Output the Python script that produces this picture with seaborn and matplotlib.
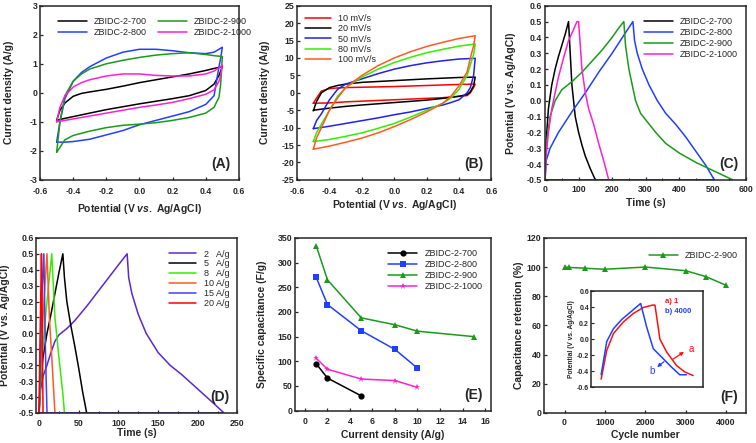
import numpy as np
import pandas as pd
import matplotlib
matplotlib.use("Agg")
import matplotlib.pyplot as plt
import seaborn as sns
from matplotlib.ticker import MultipleLocator, AutoMinorLocator, FormatStrFormatter

# ---------------- data ----------------
# (A) CV at fixed scan rate: forward branch then reverse branch
cv_x_fwd = [-0.5, -0.48, -0.45, -0.4, -0.35, -0.3, -0.2, -0.1, 0.0, 0.1, 0.2, 0.3, 0.4, 0.45, 0.5]
cv_x_rev = [0.5, 0.49, 0.48, 0.45, 0.4, 0.3, 0.2, 0.1, 0.0, -0.1, -0.2, -0.3, -0.4, -0.45, -0.5]
a_700_fwd = [-0.95, -0.6, -0.35, -0.12, -0.02, 0.03, 0.12, 0.23, 0.35, 0.45, 0.55, 0.65, 0.77, 0.84, 0.9]
a_700_rev = [0.9, 0.75, 0.6, 0.3, 0.08, -0.1, -0.2, -0.29, -0.38, -0.48, -0.58, -0.7, -0.82, -0.88, -0.95]
a_800_fwd = [-1.7, -1.0, -0.2, 0.4, 0.7, 0.9, 1.2, 1.4, 1.5, 1.5, 1.45, 1.38, 1.35, 1.4, 1.57]
a_800_rev = [1.57, 1.2, 0.9, -0.1, -0.4, -0.65, -0.8, -0.95, -1.1, -1.3, -1.45, -1.6, -1.68, -1.7, -1.7]
a_900_fwd = [-2.05, -1.0, -0.1, 0.4, 0.65, 0.82, 1.0, 1.12, 1.22, 1.3, 1.35, 1.38, 1.32, 1.28, 1.25]
a_900_rev = [1.25, 0.3, -0.15, -0.5, -0.7, -0.85, -0.95, -1.03, -1.08, -1.12, -1.2, -1.32, -1.47, -1.62, -2.05]
a_1000_fwd = [-1.0, -0.5, -0.1, 0.2, 0.35, 0.45, 0.58, 0.65, 0.65, 0.6, 0.58, 0.58, 0.65, 0.75, 0.95]
a_1000_rev = [0.95, 0.6, 0.4, 0.1, -0.05, -0.2, -0.33, -0.42, -0.5, -0.6, -0.7, -0.8, -0.9, -0.95, -1.0]

# (B) CV of ZBIDC-2-900 at different scan rates
b_x_fwd = [-0.5, -0.48, -0.45, -0.4, -0.35, -0.3, -0.2, -0.1, 0.0, 0.1, 0.2, 0.3, 0.4, 0.5]
b_x_rev = [0.5, 0.49, 0.47, 0.45, 0.4, 0.35, 0.3, 0.2, 0.1, 0.0, -0.1, -0.2, -0.3, -0.4, -0.5]
b_10_fwd = [-3.0, -1.5, 0.5, 1.2, 1.4, 1.5, 1.6, 1.7, 1.8, 1.95, 2.1, 2.25, 2.4, 2.5]
b_10_rev = [2.5, 1.5, 0.0, -0.8, -1.0, -1.2, -1.4, -1.6, -1.8, -2.0, -2.2, -2.4, -2.6, -2.9, -3.0]
b_20_fwd = [-5.2, -2.5, 0.0, 1.5, 2.1, 2.5, 3.0, 3.25, 3.5, 3.75, 4.0, 4.2, 4.4, 4.5]
b_20_rev = [4.5, 2.0, 0.3, -0.5, -1.0, -1.3, -1.6, -2.1, -2.45, -2.8, -3.15, -3.5, -3.9, -4.4, -5.0]
b_50_fwd = [-10.3, -8.0, -6.0, -2.0, 1.0, 2.5, 4.0, 5.5, 6.8, 7.8, 8.6, 9.2, 9.7, 9.9]
b_50_rev = [9.9, 5.0, 1.5, 0.0, -2.0, -2.8, -3.5, -4.5, -5.5, -6.3, -7.2, -8.0, -8.8, -9.6, -10.3]
b_80_fwd = [-14.0, -11.5, -9.0, -5.0, -1.0, 1.5, 4.5, 6.8, 8.7, 10.2, 11.5, 12.5, 13.4, 14.0]
b_80_rev = [14.0, 11.0, 8.0, 5.0, 1.0, -1.5, -3.0, -5.0, -7.0, -8.8, -10.2, -11.5, -12.5, -13.4, -14.0]
b_100_fwd = [-16.2, -13.0, -10.0, -5.0, -1.5, 1.5, 5.0, 7.8, 10.0, 11.8, 13.3, 14.5, 15.6, 16.4]
b_100_rev = [16.4, 13.5, 10.0, 6.0, 2.0, -1.0, -3.0, -5.5, -7.7, -9.7, -11.5, -13.0, -14.2, -15.3, -16.2]

# (C) GCD at 1 A/g
c_700_t = [0, 1, 5, 10, 20, 30, 40, 50, 60, 70, 75, 80, 90, 100, 110, 120, 135, 150]
c_700_v = [-0.5, -0.35, -0.2, -0.05, 0.1, 0.2, 0.28, 0.35, 0.42, 0.5, 0.3, 0.1, -0.1, -0.2, -0.28, -0.35, -0.43, -0.5]
c_800_t = [0, 3, 15, 40, 80, 120, 160, 200, 240, 262, 267, 275, 290, 310, 335, 360, 390, 420, 450, 480, 505, 0]
c_800_v = [-0.5, -0.38, -0.3, -0.2, -0.07, 0.05, 0.18, 0.3, 0.43, 0.5, 0.38, 0.3, 0.2, 0.1, 0.0, -0.08, -0.15, -0.23, -0.32, -0.41, -0.5, -0.5]
c_900_t = [0, 2, 5, 15, 30, 50, 80, 110, 140, 170, 185, 200, 220, 235, 240, 250, 260, 270, 285, 300, 330, 360, 400, 450, 500, 540, 560]
c_900_v = [-0.5, -0.35, -0.25, -0.1, 0.0, 0.07, 0.12, 0.18, 0.25, 0.32, 0.36, 0.4, 0.46, 0.5, 0.35, 0.2, 0.1, 0.0, -0.08, -0.12, -0.2, -0.27, -0.33, -0.39, -0.44, -0.48, -0.5]
c_1000_t = [0, 3, 10, 20, 30, 40, 55, 70, 85, 95, 100, 105, 110, 120, 130, 145, 160, 175, 190]
c_1000_v = [-0.5, -0.35, -0.2, -0.05, 0.05, 0.15, 0.27, 0.38, 0.45, 0.5, 0.5, 0.35, 0.2, 0.05, -0.05, -0.15, -0.27, -0.38, -0.5]

# (D) GCD of ZBIDC-2-900 at different current densities
d_2_t = [0, 2, 5, 10, 15, 20, 25, 30, 35, 45, 60, 80, 100, 111, 113, 117, 125, 135, 150, 165, 180, 200, 220, 233, 0]
d_2_v = [-0.5, -0.35, -0.27, -0.2, -0.12, -0.05, -0.01, 0.01, 0.03, 0.08, 0.17, 0.3, 0.43, 0.5, 0.35, 0.25, 0.12, 0.0, -0.12, -0.2, -0.26, -0.35, -0.44, -0.5, -0.5]
d_5_t = [0, 2, 5, 10, 15, 20, 25, 30, 32, 35, 40, 45, 50, 55, 60]
d_5_v = [-0.5, -0.3, -0.15, 0.0, 0.12, 0.25, 0.38, 0.5, 0.35, 0.2, 0.05, -0.08, -0.22, -0.37, -0.5]
d_8_t = [0, 3, 8, 13, 16, 20, 25, 30, 32]
d_8_v = [-0.5, -0.2, 0.1, 0.35, 0.5, 0.1, -0.15, -0.38, -0.5]
d_10_t = [0, 2, 5, 8, 10, 13, 16, 20]
d_10_v = [-0.5, -0.2, 0.1, 0.35, 0.5, 0.1, -0.15, -0.5]
d_15_t = [0, 2, 4, 6, 7, 8, 10]
d_15_v = [-0.5, -0.1, 0.3, 0.5, 0.2, -0.1, -0.5]
d_20_t = [0, 1, 2, 3, 4, 5]
d_20_v = [-0.5, -0.1, 0.2, 0.5, 0.1, -0.5]

# (E) specific capacitance vs current density
e_700_i = [1, 2, 5]
e_700_c = [95, 66, 30]
e_800_i = [1, 2, 5, 8, 10]
e_800_c = [270, 215, 162, 124, 86]
e_900_i = [1, 2, 5, 8, 10, 15]
e_900_c = [334, 265, 188, 174, 161, 150]
e_1000_i = [1, 2, 5, 8, 10]
e_1000_c = [106, 84, 64, 61, 47]

# (F) cycling stability and inset GCD curves
f_cycle = [0, 100, 500, 1000, 2000, 3000, 3500, 4000]
f_retention = [100, 99.8, 99.2, 98.5, 100, 97.5, 93.5, 87.5]
inset_a_t = [8.9, 13.9, 19.9, 28.8, 37.7, 46.6, 54.9, 57.0, 61.4, 67.4, 76.3, 83.7, 91.1]
inset_a_v = [-0.5, -0.14, 0.07, 0.215, 0.32, 0.395, 0.425, 0.425, 0.0, -0.16, -0.33, -0.41, -0.455]
inset_b_t = [8.9, 13.9, 19.9, 27.3, 36.2, 44.2, 49.6, 55.5, 64.4, 71.8, 79.2, 85.2]
inset_b_v = [-0.445, -0.03, 0.13, 0.245, 0.35, 0.445, 0.15, -0.12, -0.245, -0.35, -0.445, -0.445]

samples = ["ZBIDC-2-700", "ZBIDC-2-800", "ZBIDC-2-900", "ZBIDC-2-1000"]
rates = ["10 mV/s", "20 mV/s", "50 mV/s", "80 mV/s", "100 mV/s"]
currents = ["2   A/g", "5   A/g", "8   A/g", "10 A/g", "15 A/g", "20 A/g"]

# ---------------- style ----------------
sns.set_style("ticks")
plt.rcParams["font.family"] = ["Liberation Sans", "DejaVu Sans"]
plt.rcParams["font.weight"] = "bold"
plt.rcParams["axes.labelweight"] = "bold"
plt.rcParams["axes.unicode_minus"] = False
plt.rcParams["mathtext.fontset"] = "custom"
plt.rcParams["mathtext.it"] = "Liberation Sans:italic:bold"
plt.rcParams["mathtext.rm"] = "Liberation Sans:bold"
plt.rcParams["axes.linewidth"] = 1.1
plt.rcParams["xtick.direction"] = "in"
plt.rcParams["ytick.direction"] = "in"

sample_colors = ["#000000", "#2040ff", "#1a9a1a", "#ff20d0"]
rate_colors = ["#ff0000", "#000000", "#2020ee", "#33ee00", "#ff5a1f"]
current_colors = ["#5a28d0", "#000000", "#33ee00", "#ff5a1f", "#4040ff", "#ff0000"]

fs_tick = 6.3
fs_label = 7.5
fs_leg = 6.5

fig = plt.figure(figsize=(7.56, 4.43), dpi=100)
axA = fig.add_axes([0.053, 0.594, 0.263, 0.393])
axB = fig.add_axes([0.393, 0.594, 0.257, 0.393])
axC = fig.add_axes([0.721, 0.594, 0.266, 0.393])
axD = fig.add_axes([0.048, 0.068, 0.266, 0.395])
axE = fig.add_axes([0.390, 0.073, 0.259, 0.390])
axF = fig.add_axes([0.720, 0.068, 0.267, 0.395])
axI = fig.add_axes([0.782, 0.126, 0.148, 0.217])


def loop_frame(names, xs, ys, col):
    rows = []
    for n, x, y in zip(names, xs, ys):
        for i, (a, b) in enumerate(zip(x, y)):
            rows.append({col: n, "x": a, "y": b, "o": i})
    return pd.DataFrame(rows)


def finish(ax, label, xpad, xlab_y, ylab_x):
    ax.tick_params(labelsize=fs_tick, width=0.9, length=2.5, pad=2)
    ax.tick_params(axis="x", pad=xpad)
    ax.tick_params(which="minor", width=0.8, length=1.5)
    ax.xaxis.label.set_size(fs_label)
    ax.yaxis.label.set_size(fs_label)
    ax.xaxis.set_label_coords(0.5, xlab_y)
    ax.yaxis.set_label_coords(ylab_x, 0.5)
    ax.text(0.96, 0.05, label, transform=ax.transAxes, ha="right", va="bottom",
            fontsize=10, fontweight="bold")


# ---- (A)
dfA = loop_frame(samples,
                 [cv_x_fwd + cv_x_rev] * 4,
                 [a_700_fwd + a_700_rev, a_800_fwd + a_800_rev,
                  a_900_fwd + a_900_rev, a_1000_fwd + a_1000_rev], "s")
sns.lineplot(data=dfA, x="x", y="y", hue="s", palette=sample_colors, sort=False,
             estimator=None, lw=1.1, ax=axA)
axA.set_xlim(-0.6, 0.6)
axA.set_ylim(-3, 3)
axA.xaxis.set_major_locator(MultipleLocator(0.2))
axA.xaxis.set_major_formatter(FormatStrFormatter("%.1f"))
axA.yaxis.set_major_locator(MultipleLocator(1))
axA.set_xlabel(r"Potential (V $\it{vs.}$ Ag/AgCl)")
axA.set_ylabel("Current density (A/g)")
axA.legend(ncol=2, loc="upper left", bbox_to_anchor=(0.05, 0.98), frameon=False,
           handlelength=3.2, columnspacing=1.2, labelspacing=0.15,
           prop={"size": fs_leg, "weight": "normal"})
finish(axA, "(A)", 5, -0.126, -0.131)

# ---- (B)
dfB = loop_frame(rates,
                 [b_x_fwd + b_x_rev] * 5,
                 [b_10_fwd + b_10_rev, b_20_fwd + b_20_rev, b_50_fwd + b_50_rev,
                  b_80_fwd + b_80_rev, b_100_fwd + b_100_rev], "r")
sns.lineplot(data=dfB, x="x", y="y", hue="r", palette=rate_colors, sort=False,
             estimator=None, lw=1.1, ax=axB)
axB.set_xlim(-0.6, 0.6)
axB.set_ylim(-25, 25)
axB.xaxis.set_major_locator(MultipleLocator(0.2))
axB.xaxis.set_major_formatter(FormatStrFormatter("%.1f"))
axB.yaxis.set_major_locator(MultipleLocator(5))
axB.set_xlabel(r"Potential (V $\it{vs.}$ Ag/AgCl)")
axB.set_ylabel("Current density (A/g)")
axB.legend(loc="upper left", bbox_to_anchor=(0.0, 1.0), frameon=False,
           handlelength=2.8, labelspacing=0.15, prop={"size": fs_leg, "weight": "normal"})
finish(axB, "(B)", 5, -0.103, -0.139)

# ---- (C)
dfC = loop_frame(samples, [c_700_t, c_800_t, c_900_t, c_1000_t],
                 [c_700_v, c_800_v, c_900_v, c_1000_v], "s")
sns.lineplot(data=dfC, x="x", y="y", hue="s", palette=sample_colors, sort=False,
             estimator=None, lw=1.1, ax=axC)
axC.set_xlim(0, 600)
axC.set_ylim(-0.5, 0.6)
axC.xaxis.set_major_locator(MultipleLocator(100))
axC.xaxis.set_minor_locator(AutoMinorLocator(2))
axC.yaxis.set_major_locator(MultipleLocator(0.1))
axC.yaxis.set_major_formatter(FormatStrFormatter("%.1f"))
axC.set_xlabel("Time (s)")
axC.set_ylabel("Potential (V vs. Ag/AgCl)")
axC.legend(loc="upper right", bbox_to_anchor=(1.0, 0.98), frameon=False,
           handlelength=3.2, labelspacing=0.2, prop={"size": fs_leg, "weight": "normal"})
finish(axC, "(C)", 4, -0.103, -0.144)

# ---- (D)
dfD = loop_frame(currents, [d_2_t, d_5_t, d_8_t, d_10_t, d_15_t, d_20_t],
                 [d_2_v, d_5_v, d_8_v, d_10_v, d_15_v, d_20_v], "c")
sns.lineplot(data=dfD, x="x", y="y", hue="c", palette=current_colors, sort=False,
             estimator=None, lw=1.1, ax=axD)
axD.set_xlim(-3.5, 250)
axD.set_ylim(-0.5, 0.6)
axD.xaxis.set_major_locator(MultipleLocator(50))
axD.xaxis.set_minor_locator(AutoMinorLocator(2))
axD.yaxis.set_major_locator(MultipleLocator(0.1))
axD.yaxis.set_major_formatter(FormatStrFormatter("%.1f"))
axD.set_xlabel("Time (s)")
axD.set_ylabel("Potential (V vs. Ag/AgCl)")
axD.legend(loc="upper right", bbox_to_anchor=(1.0, 0.98), frameon=False,
           handlelength=3.0, labelspacing=0.1, prop={"size": fs_leg, "weight": "normal"})
finish(axD, "(D)", 4.3, -0.086, -0.129)

# ---- (E)
dfE = loop_frame(samples, [e_700_i, e_800_i, e_900_i, e_1000_i],
                 [e_700_c, e_800_c, e_900_c, e_1000_c], "s")
sns.lineplot(data=dfE, x="x", y="y", hue="s", style="s", palette=sample_colors,
             markers=["o", "s", "^", "*"], dashes=False, markersize=4.5,
             markeredgewidth=0, sort=False, estimator=None, lw=1.1, ax=axE)
axE.set_xlim(-0.9, 16.5)
axE.set_ylim(0, 350)
axE.xaxis.set_major_locator(MultipleLocator(2))
axE.yaxis.set_major_locator(MultipleLocator(50))
axE.set_xlabel("Current density (A/g)")
axE.set_ylabel("Specific capacitance (F/g)")
axE.legend(loc="upper right", bbox_to_anchor=(1.0, 0.98), frameon=False,
           handlelength=3.2, labelspacing=0.2, prop={"size": fs_leg, "weight": "normal"})
finish(axE, "(E)", 4.5, -0.11, -0.143)

# ---- (F)
sns.lineplot(x=f_cycle, y=f_retention, color="#1a9a1a", marker="^", markersize=4.5,
             markeredgewidth=0, lw=1.1, label="ZBIDC-2-900", ax=axF)
axF.set_xlim(-500, 4500)
axF.set_ylim(0, 120)
axF.xaxis.set_major_locator(MultipleLocator(1000))
axF.yaxis.set_major_locator(MultipleLocator(20))
axF.set_xlabel("Cycle number")
axF.set_ylabel("Capacitance retention (%)")
axF.legend(loc="upper right", bbox_to_anchor=(1.0, 0.97), frameon=False,
           handlelength=3.2, prop={"size": fs_leg, "weight": "normal"})
finish(axF, "(F)", 3.5, -0.097, -0.099)

# inset
sns.lineplot(x=inset_a_t, y=inset_a_v, color="#ff1010", sort=False, estimator=None,
             lw=1.1, ax=axI)
sns.lineplot(x=inset_b_t, y=inset_b_v, color="#2040ff", sort=False, estimator=None,
             lw=1.1, ax=axI)
axI.set_xlim(0, 100)
axI.set_ylim(-0.6, 0.6)
axI.set_xticks([])
axI.yaxis.set_major_locator(MultipleLocator(0.2))
axI.yaxis.set_major_formatter(FormatStrFormatter("%.1f"))
axI.tick_params(labelsize=5, width=0.8, length=2, pad=1.5)
axI.set_ylabel("Potential (V vs. Ag/AgCl)", fontsize=4.8, labelpad=1)
axI.text(66, 0.47, "a) 1", color="#ff1010", fontsize=5.5, va="center")
axI.text(66, 0.34, "b) 4000", color="#2040ff", fontsize=5.5, va="center")
axI.text(87, -0.12, "a", color="#ff1010", fontsize=7, fontweight="normal", va="center")
axI.text(52, -0.40, "b", color="#2040ff", fontsize=7, fontweight="normal", va="center")
axI.annotate("", xy=(85, -0.14), xytext=(71, -0.27),
             arrowprops=dict(arrowstyle="-|>", color="#ff1010", lw=0.9, mutation_scale=5))
axI.annotate("", xy=(57, -0.37), xytext=(67, -0.26),
             arrowprops=dict(arrowstyle="-|>", color="#2040ff", lw=0.9, mutation_scale=5))

fig.savefig("out.png", dpi=100)
